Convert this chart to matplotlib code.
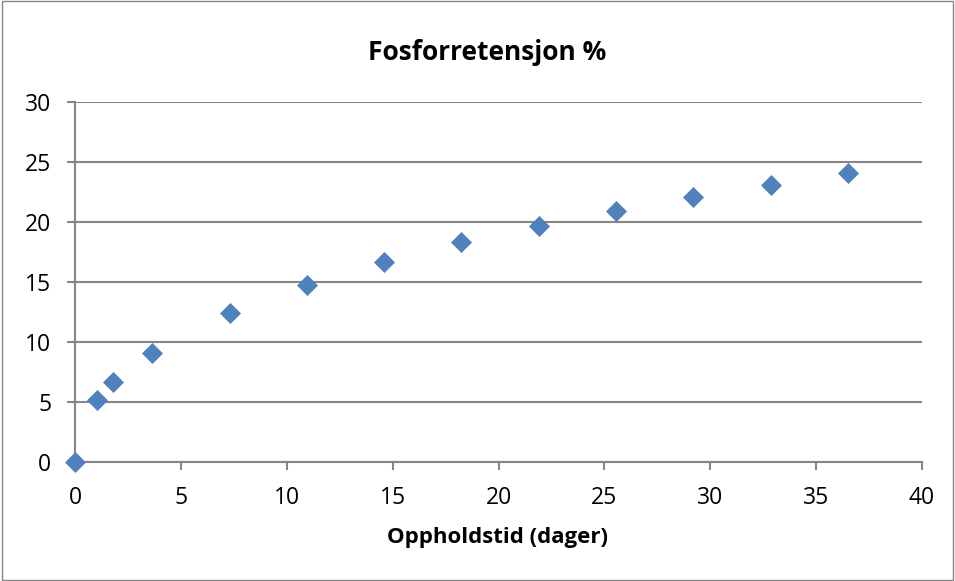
import matplotlib.pyplot as plt
from matplotlib.patches import Rectangle

# oppholdstid (dager) og fosforretensjon (%)
dager = [0, 1.04, 1.8, 3.65, 7.3, 10.95, 14.6, 18.25, 21.9, 25.55, 29.2, 32.85, 36.5]
retensjon = [0, 5.2, 6.65, 9.1, 12.4, 14.75, 16.7, 18.3, 19.7, 20.9, 22.1, 23.1, 24.05]

x_ticks = [0, 5, 10, 15, 20, 25, 30, 35, 40]
y_ticks = [0, 5, 10, 15, 20, 25, 30]

plt.rcParams['font.family'] = ['Open Sans', 'DejaVu Sans']

grey = "#868686"
blue = "#4F81BD"

fig = plt.figure(figsize=(9.55, 5.81), dpi=100)
ax = fig.add_axes([75 / 955, 1 - 462 / 581, (922 - 75) / 955, (462 - 102) / 581])

ax.scatter(dager, retensjon, marker="D", s=115, color=blue, zorder=3, clip_on=False, linewidths=0)

ax.set_xlim(0, 40)
ax.set_ylim(0, 30)
ax.set_xticks(x_ticks)
ax.set_yticks(y_ticks)
ax.yaxis.grid(True, color=grey, linewidth=1.5)
ax.set_axisbelow(True)

for side in ["top", "right"]:
    ax.spines[side].set_visible(False)
for side in ["left", "bottom"]:
    ax.spines[side].set_color(grey)
    ax.spines[side].set_linewidth(1.5)

ax.tick_params(axis="both", colors=grey, labelcolor="black", labelsize=16.5, width=1.5, length=6)
ax.tick_params(axis="x", pad=11)
ax.tick_params(axis="y", pad=11)

fig.text(497 / 955, 1 - 537 / 581, "Oppholdstid (dager)", ha="center", va="center",
         fontsize=16, fontweight="bold")
fig.text(487 / 955, 1 - 52 / 581, "Fosforretensjon %", ha="center", va="center",
         fontsize=19, fontweight="bold")

# ramme rundt hele figuren
fig.patches.append(Rectangle((0.002, 0.002), 0.996, 0.996, transform=fig.transFigure,
                             fill=False, edgecolor=grey, linewidth=1))

fig.savefig("out.png", dpi=100)
